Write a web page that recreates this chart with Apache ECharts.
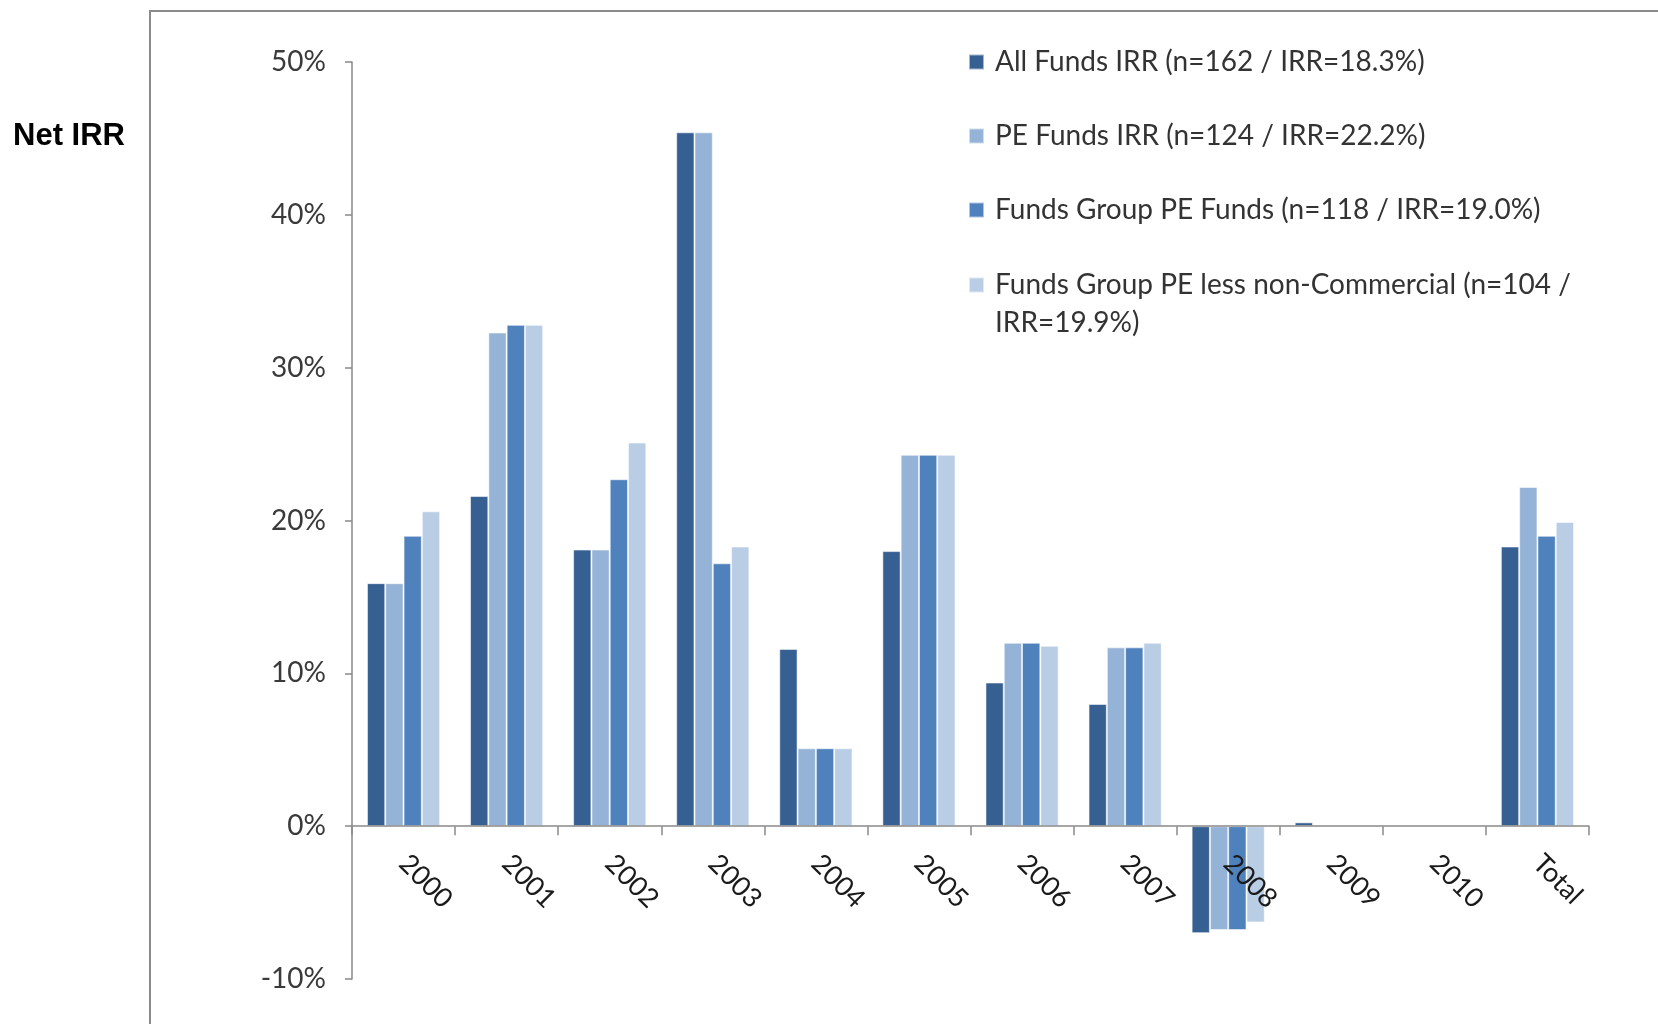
<!DOCTYPE html>
<html>
<head>
<meta charset="utf-8">
<script src="https://cdn.jsdelivr.net/npm/echarts@6.0.0/dist/echarts.min.js"></script>
<style>
  html, body { margin: 0; padding: 0; background: #fff; }
  #chart { width: 1658px; height: 1024px; }
</style>
</head>
<body>
<div id="chart"></div>
<script>
// vintage years on the x axis
const categories = ["2000", "2001", "2002", "2003", "2004", "2005", "2006", "2007", "2008", "2009", "2010", "Total"];

// net IRR in %
const allFunds = [15.9, 21.6, 18.1, 45.4, 11.6, 18.0, 9.4, 8.0, -7.0, 0.25, null, 18.3];
const peFunds = [15.9, 32.3, 18.1, 45.4, 5.1, 24.3, 12.0, 11.7, -6.8, null, null, 22.2];
const groupPeFunds = [19.0, 32.8, 22.7, 17.2, 5.1, 24.3, 12.0, 11.7, -6.8, null, null, 19.0];
const groupPeLessNonComm = [20.6, 32.8, 25.1, 18.3, 5.1, 24.3, 11.8, 12.0, -6.3, null, null, 19.9];

const seriesNames = [
  "All Funds IRR (n=162 / IRR=18.3%)",
  "PE Funds IRR (n=124 / IRR=22.2%)",
  "Funds Group PE Funds (n=118 / IRR=19.0%)",
  "Funds Group PE less non-Commercial (n=104 / IRR=19.9%)",
];
// the last legend entry wraps onto two lines
const lastLines = ["Funds Group PE less non-Commercial (n=104 /", "IRR=19.9%)"];

// y axis ticks
const yMin = -10;
const yMax = 50;
const yStep = 10;

const colors = ["#376092", "#95B3D7", "#4F81BD", "#B9CDE5"];
const font = "Lato";
const axisGrey = "#898989";
const lineH = 38;

// grid box (px)
const gridTop = 62;
const gridBottom = 45;
const gridHeight = 1024 - gridTop - gridBottom;
// move the category axis up to the 0% line, labels included
const zeroShift = (gridHeight * (0 - yMin)) / (yMax - yMin);

const chartDom = document.getElementById("chart");
const myChart = echarts.init(chartDom, null, { renderer: "canvas" });

const makeBar = (name, data, color) => ({
  name: name,
  type: "bar",
  barGap: "0%",
  barCategoryGap: "29%",
  itemStyle: {
    color: color,
    borderColor: "rgba(255,255,255,0.55)",
    borderWidth: 1,
  },
  data: data,
});

const option = {
  animation: false,
  backgroundColor: "#fff",
  color: colors,
  title: {
    text: "Net IRR",
    left: 8,
    top: 116,
    textStyle: {
      fontFamily: "Liberation Sans",
      fontWeight: "bold",
      fontSize: 31,
      color: "#000",
    },
  },
  legend: [
    {
      orient: "vertical",
      left: 968,
      top: 43,
      padding: 0,
      icon: "rect",
      itemWidth: 15,
      itemHeight: 15,
      itemGap: 74 - lineH,
      textStyle: {
        fontFamily: font,
        fontSize: 28,
        color: "#333",
        lineHeight: lineH,
        padding: [0, 0, 0, 6],
      },
      data: seriesNames.slice(0, 3),
    },
    {
      // own legend so the swatch sits level with the first text line
      orient: "vertical",
      left: 968,
      top: 271,
      padding: 0,
      icon: "rect",
      itemWidth: 15,
      itemHeight: 15,
      formatter: () => "{t|" + lastLines[0] + "}\n{t|" + lastLines[1] + "}",
      textStyle: {
        padding: [lineH, 0, 0, 6],
        rich: {
          t: { fontFamily: font, fontSize: 28, color: "#333", lineHeight: lineH },
        },
      },
      data: [seriesNames[3]],
    },
  ],
  grid: {
    left: 352,
    right: 69,
    top: gridTop,
    bottom: gridBottom,
    containLabel: false,
    outerBoundsMode: "none",
  },
  xAxis: {
    type: "category",
    data: categories,
    offset: -zeroShift,
    z: 5, // labels are drawn over the 2008 bars
    axisLine: { onZero: false, lineStyle: { color: axisGrey, width: 1.5 } },
    axisTick: { show: true, length: 9, lineStyle: { color: axisGrey, width: 1.5 } },
    axisLabel: {
      interval: 0,
      rotate: -45,
      margin: 33,
      fontFamily: font,
      fontSize: 27,
      color: "#1a1a1a",
    },
    splitLine: { show: false },
  },
  yAxis: {
    type: "value",
    min: yMin,
    max: yMax,
    interval: yStep,
    axisLine: { show: true, lineStyle: { color: axisGrey, width: 1.5 } },
    axisTick: { show: true, length: 7, lineStyle: { color: axisGrey, width: 1.5 } },
    axisLabel: {
      formatter: "{value}%",
      margin: 26,
      fontFamily: font,
      fontSize: 28,
      color: "#3a3a3a",
    },
    splitLine: { show: false },
  },
  // frame of the original slide
  graphic: [
    {
      type: "polyline",
      shape: { points: [[150, 1024], [150, 11], [1658, 11]] },
      style: { stroke: "#8a8a8a", lineWidth: 2, fill: null },
      silent: true,
    },
  ],
  series: [
    makeBar(seriesNames[0], allFunds, colors[0]),
    makeBar(seriesNames[1], peFunds, colors[1]),
    makeBar(seriesNames[2], groupPeFunds, colors[2]),
    makeBar(seriesNames[3], groupPeLessNonComm, colors[3]),
  ],
};

myChart.setOption(option);

window.addEventListener("resize", () => {
  myChart.resize();
});
</script>
</body>
</html>
